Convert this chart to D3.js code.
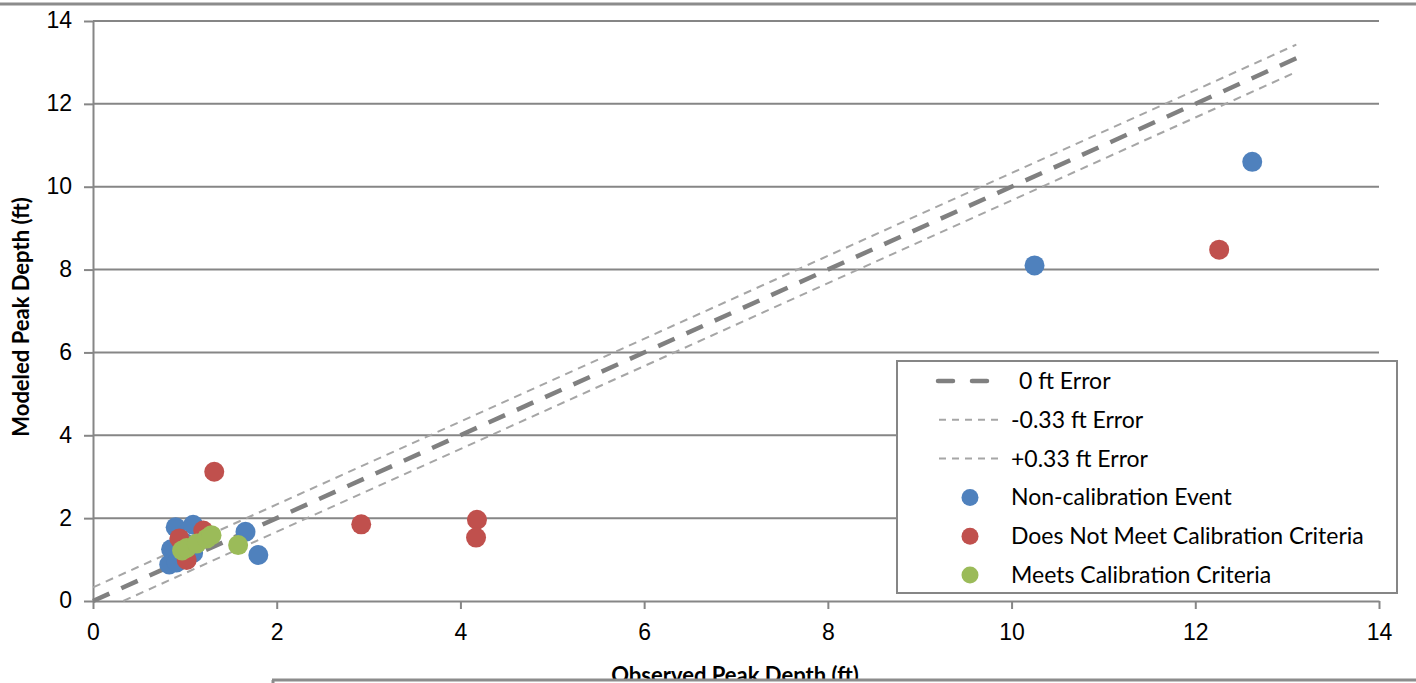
<!DOCTYPE html>
<html>
<head>
<meta charset="utf-8">
<script src="https://cdn.jsdelivr.net/npm/d3@7"></script>
<style>
  body { margin: 0; background: #fff; }
  svg { display: block; font-family: "Lato", "Open Sans", sans-serif; }
</style>
</head>
<body>
<svg id="chart" width="1416" height="683"></svg>
<script>
// observed (x) vs modeled (y) peak depth, ft
const nonCalX = [10.25, 12.62, 1.66, 1.80, 0.90, 1.09, 0.85, 0.83, 0.91, 1.09, 1.00];
const nonCalY = [8.10, 10.60, 1.67, 1.11, 1.78, 1.84, 1.25, 0.88, 0.93, 1.16, 1.40];
const failX = [1.32, 2.92, 4.18, 4.17, 12.26, 0.94, 1.20, 1.02];
const failY = [3.12, 1.85, 1.96, 1.53, 8.48, 1.51, 1.70, 0.99];
const meetX = [1.58, 0.97, 1.02, 1.13, 1.24, 1.29];
const meetY = [1.35, 1.22, 1.28, 1.39, 1.51, 1.59];

const lineEnd = 13.1;
const errOffset = 0.33;
const xTicks = [0, 2, 4, 6, 8, 10, 12, 14];
const yTicks = [0, 2, 4, 6, 8, 10, 12, 14];

const legendLabels = ['0 ft Error', '-0.33 ft Error', '+0.33 ft Error',
  'Non-calibration Event', 'Does Not Meet Calibration Criteria', 'Meets Calibration Criteria'];

const margin = {top: 21, left: 93, right: 37, bottom: 82};
const width = 1416 - margin.left - margin.right;
const height = 683 - margin.top - margin.bottom;

const svg = d3.select('#chart');

// outer frame line at top
svg.append('line')
    .attr('x1', 0).attr('x2', 1416).attr('y1', 4).attr('y2', 4)
    .attr('stroke', '#8c8c8c').attr('stroke-width', 3);

const g = svg.append('g')
    .attr('transform', `translate(${margin.left},${margin.top})`);

const x = d3.scaleLinear().domain([0, 14]).range([0, width]);
const y = d3.scaleLinear().domain([0, 14]).range([height, 0]);

// gridlines
g.append('g')
  .selectAll('line')
  .data(yTicks.filter(d => d > 0))
  .join('line')
    .attr('x1', 0).attr('x2', width)
    .attr('y1', d => y(d)).attr('y2', d => y(d))
    .attr('stroke', '#868686').attr('stroke-width', 2);

const tickFont = '23px';

const xAxisG = g.append('g')
    .attr('transform', `translate(0,${height})`)
    .call(d3.axisBottom(x).tickValues(xTicks).tickSize(8).tickPadding(15).tickSizeOuter(0));
const yAxisG = g.append('g')
    .call(d3.axisLeft(y).tickValues(yTicks).tickSize(9).tickPadding(12).tickSizeOuter(0));

[xAxisG, yAxisG].forEach(a => {
  a.select('.domain').attr('stroke', '#868686').attr('stroke-width', 2);
  a.selectAll('.tick line').attr('stroke', '#868686').attr('stroke-width', 2);
  a.selectAll('.tick text')
      .attr('fill', '#000')
      .style('font-size', tickFont)
      .style('font-family', 'inherit');
});
yAxisG.selectAll('.tick text').attr('dy', '0.3em');

// error lines
const refLines = [
  {pts: [[0, 0], [lineEnd, lineEnd]], color: '#808080', w: 4.5, dash: '18,13'},
  {pts: [[errOffset, 0], [lineEnd, lineEnd - errOffset]], color: '#a6a6a6', w: 2, dash: '8,6'},
  {pts: [[0, errOffset], [lineEnd, lineEnd + errOffset]], color: '#a6a6a6', w: 2, dash: '8,6'}
];
const line = d3.line().x(d => x(d[0])).y(d => y(d[1]));
g.append('g')
  .selectAll('path')
  .data(refLines)
  .join('path')
    .attr('d', d => line(d.pts))
    .attr('fill', 'none')
    .attr('stroke', d => d.color)
    .attr('stroke-width', d => d.w)
    .attr('stroke-dasharray', d => d.dash);

// points
const series = [
  {xs: nonCalX, ys: nonCalY, color: '#4f81bd'},
  {xs: failX, ys: failY, color: '#c0504d'},
  {xs: meetX, ys: meetY, color: '#9bbb59'}
];
series.forEach(s => {
  g.append('g')
    .selectAll('circle')
    .data(s.xs.map((v, i) => [v, s.ys[i]]))
    .join('circle')
      .attr('cx', d => x(d[0]))
      .attr('cy', d => y(d[1]))
      .attr('r', 10)
      .attr('fill', s.color);
});

// axis titles
svg.append('text')
    .attr('transform', `translate(29,${margin.top + height / 2 + 6}) rotate(-90)`)
    .attr('text-anchor', 'middle')
    .style('font-size', '22px').style('font-weight', 'bold')
    .text('Modeled Peak Depth (ft)');

svg.append('text')
    .attr('x', 735).attr('y', 683)
    .attr('text-anchor', 'middle')
    .style('font-size', '22px').style('font-weight', 'bold')
    .text('Observed Peak Depth (ft)');

// overlapping frame at bottom clips the x title
svg.append('rect')
    .attr('x', 272).attr('y', 679).attr('width', 1416 - 272).attr('height', 10)
    .attr('fill', '#fff');
svg.append('line')
    .attr('x1', 272).attr('x2', 1416).attr('y1', 680).attr('y2', 680)
    .attr('stroke', '#8c8c8c').attr('stroke-width', 3);
svg.append('line')
    .attr('x1', 273).attr('x2', 273).attr('y1', 680).attr('y2', 683)
    .attr('stroke', '#8c8c8c').attr('stroke-width', 3);

// legend
const legend = svg.append('g').attr('transform', 'translate(897,361)');
legend.append('rect')
    .attr('width', 500).attr('height', 232)
    .attr('fill', '#fff').attr('stroke', '#868686').attr('stroke-width', 2);

const rowY = i => 20 + i * 38.8;
const items = legend.selectAll('g.item')
  .data(legendLabels)
  .join('g')
    .attr('class', 'item')
    .attr('transform', (d, i) => `translate(0,${rowY(i)})`);

items.each(function(d, i) {
  const it = d3.select(this);
  if (i < 3) {
    const r = refLines[i];
    it.append('line')
        .attr('x1', i === 0 ? 41 : 42).attr('x2', i === 0 ? 105 : 102)
        .attr('y1', 0).attr('y2', 0)
        .attr('stroke', r.color)
        .attr('stroke-width', r.w)
        .attr('stroke-linecap', i === 0 ? 'round' : 'butt')
        .attr('stroke-dasharray', i === 0 ? '15,19' : '7,6');
  } else {
    it.append('circle')
        .attr('cx', 73).attr('cy', 0).attr('r', 8.5)
        .attr('fill', series[i - 3].color);
  }
  it.append('text')
      .attr('x', i === 0 ? 122 : 114)
      .attr('dy', '0.35em')
      .style('font-size', '23px')
      .attr('fill', '#000')
      .text(d);
});
</script>
</body>
</html>
